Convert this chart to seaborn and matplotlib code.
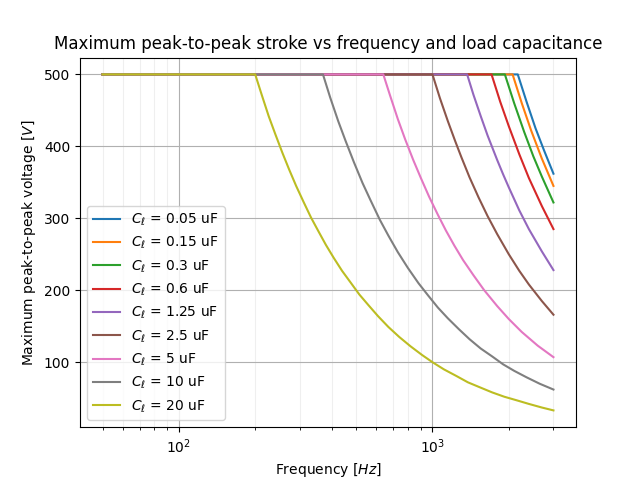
import matplotlib
matplotlib.use("Agg")
import matplotlib.pyplot as plt
import seaborn as sns

# =============================
# DATA
# =============================
LABELS = ["0.05", "0.15", "0.3", "0.6", "1.25", "2.5", "5", "10", "20"]

f_005 = [50, 2170, 2350, 2550, 2750, 3000]
v_005 = [500, 500, 462, 425, 395, 362]

f_015 = [50, 2070, 2250, 2450, 2700, 3000]
v_015 = [500, 500, 460, 422, 383, 345]

f_03 = [50, 1930, 2100, 2300, 2500, 2700, 3000]
v_03 = [500, 500, 460, 420, 386, 358, 322]

f_06 = [50, 1710, 1850, 2000, 2200, 2400, 2700, 3000]
v_06 = [500, 500, 462, 428, 389, 356, 317, 285]

f_125 = [50, 1370, 1450, 1550, 1650, 1800, 1900, 2000, 2200, 2400, 2700, 3000]
v_125 = [500, 500, 472, 442, 415, 381, 361, 343, 311, 285, 254, 228]

f_25 = [50, 1000, 1070, 1150, 1230, 1300, 1400, 1520, 1650, 1800, 2000, 2200, 2400, 2700, 3000]
v_25 = [500, 500, 467, 435, 407, 385, 357, 329, 303, 278, 250, 227, 208, 185, 166]

f_5 = [50, 640, 680, 730, 780, 840, 900, 970, 1050, 1130, 1220, 1320, 1450, 1600, 1800,
       2000, 2250, 2600, 3000]
v_5 = [500, 500, 471, 438, 410, 381, 356, 330, 305, 283, 262, 242, 221, 200, 178,
       160, 142, 123, 107]

f_10 = [50, 370, 395, 425, 455, 490, 530, 570, 620, 670, 730, 800, 880, 960, 1050, 1150,
        1270, 1400, 1550, 1720, 1900, 2100, 2350, 2650, 3000]
v_10 = [500, 500, 468, 435, 407, 378, 349, 325, 298, 276, 253, 231, 210, 193, 176, 161,
        146, 132, 119, 108, 97, 88, 79, 70, 62]

f_20 = [50, 200, 212, 226, 240, 256, 272, 290, 310, 332, 355, 380, 408, 440, 475, 515, 560,
        610, 670, 740, 820, 910, 1000, 1110, 1240, 1380, 1540, 1720, 1920, 2150, 2400, 2700, 3000]
v_20 = [500, 500, 472, 442, 417, 391, 368, 345, 323, 301, 282, 263, 245, 227, 211, 194, 179,
        164, 149, 135, 122, 110, 100, 90, 81, 72, 65, 58, 52, 47, 42, 37, 33]

SERIES = [
    (f_005, v_005), (f_015, v_015), (f_03, v_03), (f_06, v_06), (f_125, v_125),
    (f_25, v_25), (f_5, v_5), (f_10, v_10), (f_20, v_20),
]

# =============================
# PLOT
# =============================
fig, ax = plt.subplots(figsize=(6.4, 4.8), dpi=100)
colors = sns.color_palette("tab10", len(SERIES))

for (f, v), lab, c in zip(SERIES, LABELS, colors):
    sns.lineplot(x=f, y=v, ax=ax, color=c, label=rf"$C_\ell$ = {lab} uF")

ax.set_xscale("log")
ax.grid(True, which="major")
ax.grid(True, which="minor", axis="x", alpha=0.2)
ax.legend(loc="lower left")

ax.set_title("Maximum peak-to-peak stroke vs frequency and load capacitance")
ax.set_xlabel("Frequency [$Hz$]")
ax.set_ylabel("Maximum peak-to-peak voltage [$V$]")

fig.savefig("out.png", dpi=100)
